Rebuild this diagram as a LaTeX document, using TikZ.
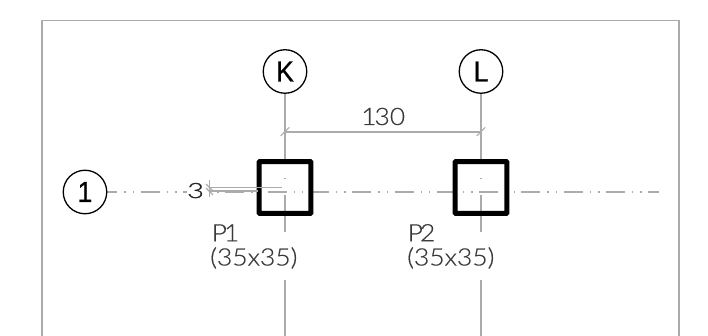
\documentclass[tikz,border=0pt]{standalone}
\usepackage{fontspec}
\usetikzlibrary{backgrounds}
\newfontfamily\thinfont[FakeStretch=1.1,FakeBold=0.4]{Lato Light}
\newfontfamily\dimfont[FakeStretch=1.1,FakeBold=1.2]{Lato Light}
\newfontfamily\bubblefont[FakeStretch=0.92,FakeBold=0.8]{Liberation Sans}
\definecolor{linegray}{HTML}{ABABAB}
\definecolor{textgray}{HTML}{3A3A3A}
\tikzset{
  bubble/.style={circle,draw=black,line width=1.3pt,minimum size=43.5pt,inner sep=0pt,font=\bubblefont\fontsize{29}{29}\selectfont,text=black},
  column/.style={rectangle,draw=black,line width=5pt,minimum size=51.7pt,inner sep=0pt,rounded corners=0.6pt},
  axis/.style={draw=linegray,line width=1.4pt},
  centerline/.style={axis,line width=1.7pt,dash pattern=on 19pt off 7pt on 1.4pt off 7pt on 1.4pt off 6.5pt,dash phase=9pt},
  dimline/.style={draw=linegray,line width=1.7pt},
  tick/.style={draw=linegray,line width=1.1pt},
  label/.style={inner sep=0pt,text=textgray,font=\thinfont\fontsize{24}{24}\selectfont,anchor=base west},
}
\begin{document}
\begin{tikzpicture}[x=1pt,y=-1pt]
\useasboundingbox (0,0) rectangle (708,336);
\draw[draw=linegray,line width=1.8pt] (42,336) -- (42,20.5) -- (678.7,20.5) -- (678.7,336);

\node[bubble] (k) at (285,71.5) {K};
\node[bubble] (l) at (481,71.5) {L};
\node[bubble] (one) at (85,192) {1};
\node[column] (p1) at (285,187.5) {};
\node[column] (p2) at (481,187.5) {};

\coordinate (kdim) at (285,131.7);
\coordinate (ldim) at (481,131.7);
\coordinate (axisend) at (659,191.7);
\coordinate (dimtop) at (209.5,187.7);
\coordinate (dimbot) at (209.5,191.3);
\coordinate (p1top) at (281.5,187.7);
\coordinate (p1bot) at (258,191.3);

\begin{pgfonlayer}{background}
  % grid axes
  \path[centerline] (one.east |- axisend) -- (axisend);
  \foreach \c/\n in {k/p1,l/p2}{
    \path[axis] (\c.south) -- (\c |- \n.north);
    \path[axis] (\n.center) ++(0,-9.5) -- ++(0,1.3);
    \path[axis] (\n.center) ++(0,7.5) -- ++(0,37);
    \path[axis] (\n.center) ++(0,92.5) -- ++(0,55.5);
  }
\end{pgfonlayer}

% dimension 130
\path[dimline] (kdim) -- (ldim);
\path[tick] (kdim) ++(-4.3,4.3) -- ++(8.6,-8.6);
\path[tick] (ldim) ++(-4.3,4.3) -- ++(8.6,-8.6);
\node[label] (d130) at (361,125) {1\kern-2pt 30};

% dimension 3
\path[tick] (dimtop) -- (p1top);
\path[dimline] (dimbot) -- (p1bot);
\path[tick] (209.5,180.5) -- (209.5,197.5);
\path[tick] (206,184) -- (213,191);
\path[tick] (206,188) -- (213,195);
\node[label,fill=white,text=black!85,xscale=1.25,transform shape,font=\dimfont\fontsize{21}{21}\selectfont] (d3) at (187,198) {3};

% labels
\node[label] (p1name) at (211.5,241.3) {P\kern-3pt 1};
\node[label] (p1size) at (210,265.5) {(35x35)};
\node[label] (p2name) at (407.5,241.3) {P\kern-3pt 2};
\node[label] (p2size) at (407,265.5) {(35x35)};
\end{tikzpicture}
\end{document}
